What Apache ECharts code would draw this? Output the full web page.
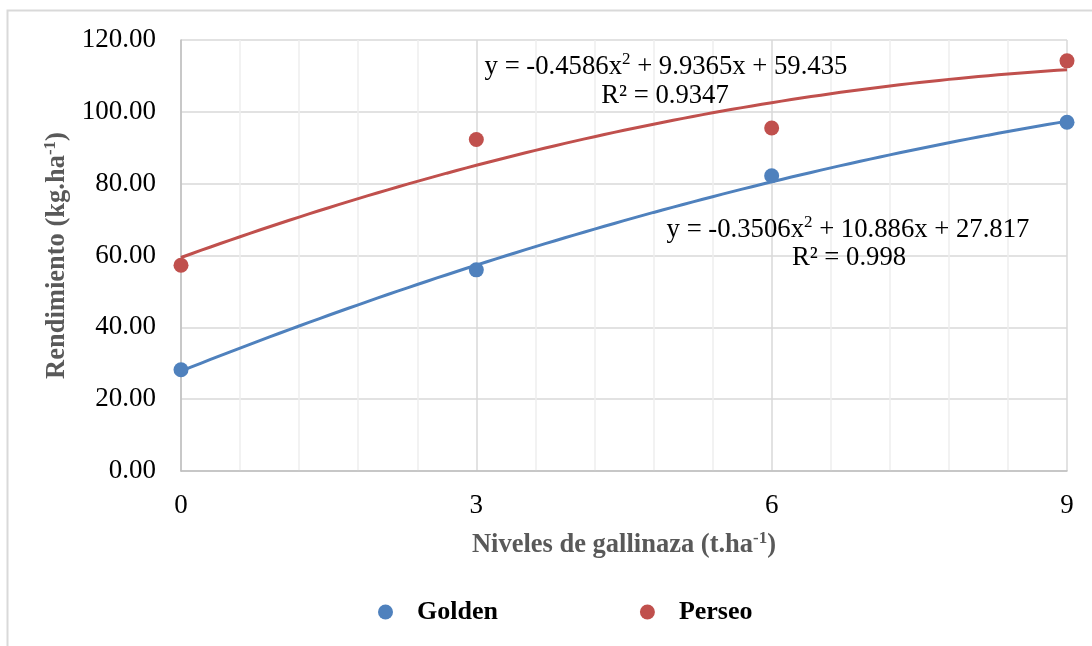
<!DOCTYPE html>
<html>
<head>
<meta charset="utf-8">
<script src="https://cdn.jsdelivr.net/npm/echarts@6/dist/echarts.min.js"></script>
<style>
  html, body { margin: 0; padding: 0; background: #fff; }
  #chart { width: 1092px; height: 646px; }
</style>
</head>
<body>
<div id="chart"></div>
<script>
// Poultry-manure doses (t/ha) and yields (kg/ha) for two cultivars
const doses = [0, 3, 6, 9];
const golden = [28.2, 56.0, 82.2, 97.1];
const perseo = [57.3, 92.3, 95.5, 114.2];

// Quadratic trend coefficients [a, b, c] for y = a*x^2 + b*x + c
const goldenFit = [-0.3506, 10.886, 27.817];
const perseoFit = [-0.4586, 9.9365, 59.435];
const goldenR2 = '0.998';
const perseoR2 = '0.9347';

const serif = '"Liberation Serif", "Times New Roman", serif';
const BLUE = '#4f81bd';
const RED = '#c0504d';

function trendPoints(coef) {
  const pts = [];
  for (let i = 0; i <= 90; i++) {
    const x = i / 10;
    pts.push([x, coef[0] * x * x + coef[1] * x + coef[2]]);
  }
  return pts;
}

function eqText(coef) {
  const f = (v) => (v < 0 ? '-' + Math.abs(v) : String(v));
  return 'y = ' + f(coef[0]) + 'x{sup|2} + ' + coef[1] + 'x + ' + coef[2];
}

const supRich = {
  sup: { fontSize: 17, fontFamily: serif, fill: '#000', padding: [0, 0, 14, 0] }
};
const titleSup = {
  sup: { fontSize: 17, fontWeight: 'bold', color: '#595959', fontFamily: serif, padding: [0, 0, 14, 0] }
};

const chart = echarts.init(document.getElementById('chart'), null, { renderer: 'canvas' });

chart.setOption({
  backgroundColor: '#ffffff',
  animation: false,
  grid: { left: 181, right: 25, top: 40, bottom: 175 },
  legend: {
    left: 373,
    top: 594,
    itemWidth: 15,
    itemHeight: 15,
    itemGap: 142,
    icon: 'circle',
    data: ['Golden', 'Perseo'],
    textStyle: {
      fontFamily: serif, fontSize: 26, fontWeight: 'bold', color: '#000',
      padding: [0, 0, 0, 19]
    }
  },
  xAxis: {
    type: 'value',
    min: 0, max: 9, interval: 3,
    name: 'Niveles de gallinaza (t.ha{sup|-1})',
    nameLocation: 'middle',
    nameGap: 59,
    nameTextStyle: {
      fontFamily: serif, fontSize: 26.5, fontWeight: 'bold', color: '#595959',
      rich: titleSup
    },
    axisLine: { show: true, lineStyle: { color: '#bfbfbf', width: 1.5 } },
    axisTick: { show: false },
    axisLabel: { fontFamily: serif, fontSize: 27, color: '#000', margin: 21 },
    splitLine: { show: true, lineStyle: { color: '#d9d9d9', width: 1.5 } },
    minorTick: { show: false, splitNumber: 5 },
    minorSplitLine: { show: true, lineStyle: { color: '#eeeeee', width: 1.5 } }
  },
  yAxis: {
    type: 'value',
    min: 0, max: 120, interval: 20,
    name: 'Rendimiento (kg.ha{sup|-1})',
    nameLocation: 'middle',
    nameRotate: 90,
    nameGap: 98,
    nameTextStyle: {
      fontFamily: serif, fontSize: 26.5, fontWeight: 'bold', color: '#595959',
      rich: titleSup
    },
    axisLine: { show: true, lineStyle: { color: '#bfbfbf', width: 1.5 } },
    axisTick: { show: false },
    axisLabel: {
      fontFamily: serif, fontSize: 27, color: '#000', margin: 25,
      formatter: (v) => v.toFixed(2)
    },
    splitLine: { show: true, lineStyle: { color: '#d9d9d9', width: 1.5 } }
  },
  series: [
    {
      name: 'Golden trend',
      type: 'line',
      data: trendPoints(goldenFit),
      showSymbol: false,
      lineStyle: { color: BLUE, width: 3 },
      itemStyle: { color: BLUE },
      z: 2,
      silent: true
    },
    {
      name: 'Perseo trend',
      type: 'line',
      data: trendPoints(perseoFit),
      showSymbol: false,
      lineStyle: { color: RED, width: 3 },
      itemStyle: { color: RED },
      z: 2,
      silent: true
    },
    {
      name: 'Golden',
      type: 'scatter',
      data: doses.map((d, i) => [d, golden[i]]),
      symbol: 'circle',
      symbolSize: 15,
      itemStyle: { color: BLUE, opacity: 1 },
      z: 3
    },
    {
      name: 'Perseo',
      type: 'scatter',
      data: doses.map((d, i) => [d, perseo[i]]),
      symbol: 'circle',
      symbolSize: 15,
      itemStyle: { color: RED, opacity: 1 },
      z: 3
    }
  ],
  graphic: [
    {
      type: 'rect',
      shape: { x: 7.5, y: 10.5, width: 1200, height: 800 },
      style: { fill: 'none', stroke: '#d9d9d9', lineWidth: 2 },
      silent: true,
      z: -10
    },
    {
      type: 'text',
      z: 100,
      style: {
        text: eqText(perseoFit), x: 666, y: 67,
        fontFamily: serif, fontSize: 26.7, fill: '#000',
        align: 'center', verticalAlign: 'middle', rich: supRich
      }
    },
    {
      type: 'text',
      z: 100,
      style: {
        text: 'R² = ' + perseoR2, x: 665, y: 96,
        fontFamily: serif, fontSize: 26.7, fill: '#000',
        align: 'center', verticalAlign: 'middle'
      }
    },
    {
      type: 'text',
      z: 100,
      style: {
        text: eqText(goldenFit), x: 848, y: 230,
        fontFamily: serif, fontSize: 26.7, fill: '#000',
        align: 'center', verticalAlign: 'middle', rich: supRich
      }
    },
    {
      type: 'text',
      z: 100,
      style: {
        text: 'R² = ' + goldenR2, x: 849, y: 258,
        fontFamily: serif, fontSize: 26.7, fill: '#000',
        align: 'center', verticalAlign: 'middle'
      }
    }
  ]
});
</script>
</body>
</html>
